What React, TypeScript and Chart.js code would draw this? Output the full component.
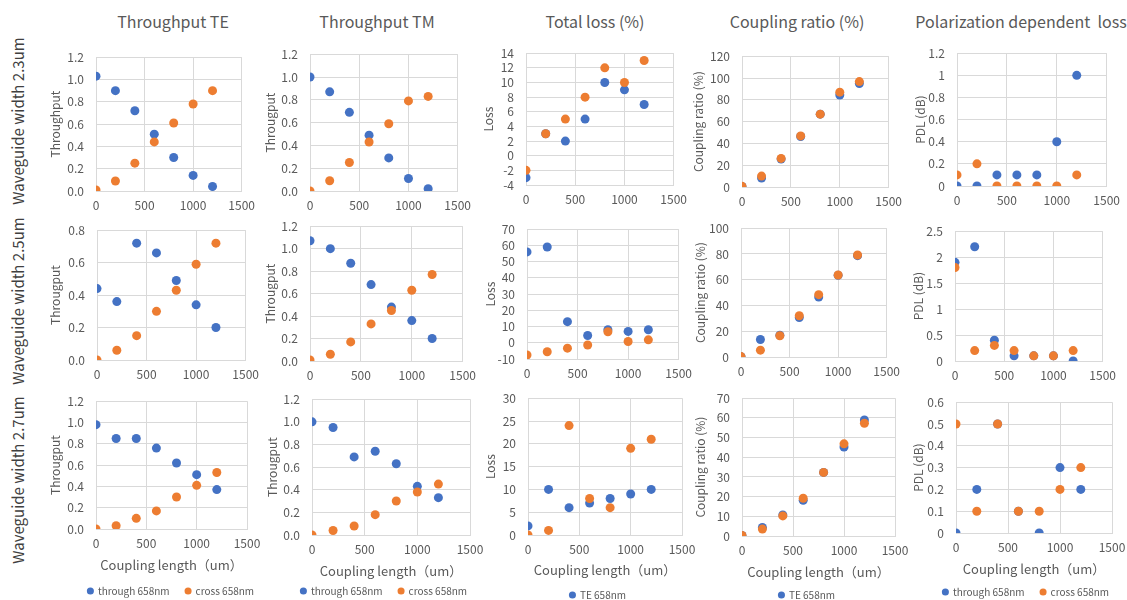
import { useEffect, useRef } from "react";
import { Chart, registerables } from "chart.js";

Chart.register(...registerables);

const FONT = "'Noto Sans CJK JP', 'Noto Sans', sans-serif";
const TEXT = "#595959";
const GRID = "#d9d9d9";
const BLUE = "#4472C4";
const ORANGE = "#ED7D31";

// ---- data ----
const couplingLengths = [0, 200, 400, 600, 800, 1000, 1200];
const xTickStep = 500;
const xMax = 1500;

const columnTitles = ["Throughput TE", "Throughput TM", "Total loss (%)", "Coupling ratio (%)", "Polarization dependent  loss"];
const rowLabels = ["Waveguide width 2.3um", "Waveguide width 2.5um", "Waveguide width 2.7um"];
const xAxisTitle = "Coupling length（um）";

// width 2.3um
const teThrough23 = [1.03, 0.9, 0.72, 0.51, 0.3, 0.14, 0.04];
const teCross23 = [0.01, 0.09, 0.25, 0.44, 0.61, 0.78, 0.9];
const tmThrough23 = [1.0, 0.87, 0.69, 0.49, 0.29, 0.11, 0.02];
const tmCross23 = [0.0, 0.09, 0.25, 0.43, 0.59, 0.79, 0.83];
const lossTE23 = [-3, 3, 2, 5, 10, 9, 7];
const lossTM23 = [-2, 3, 5, 8, 12, 10, 13];
const crTE23 = [0.5, 8.2, 25.6, 46.3, 66.8, 84.4, 95];
const crTM23 = [0.6, 10, 26.2, 46.9, 66.8, 87, 96.7];
const pdlThrough23 = [0, 0, 0.1, 0.1, 0.1, 0.4, 1.0];
const pdlCross23 = [0.1, 0.2, 0, 0, 0, 0, 0.1];

// width 2.5um
const teThrough25 = [0.44, 0.36, 0.72, 0.66, 0.49, 0.34, 0.2];
const teCross25 = [0.0, 0.06, 0.15, 0.3, 0.43, 0.59, 0.72];
const tmThrough25 = [1.07, 1.0, 0.87, 0.68, 0.48, 0.36, 0.2];
const tmCross25 = [0.01, 0.06, 0.17, 0.33, 0.45, 0.63, 0.77];
const lossTE25 = [56, 59, 13, 4.5, 8, 7, 8];
const lossTM25 = [-7.5, -5.5, -3.3, -1.4, 6.8, 0.8, 1.8];
const crTE25 = [0.2, 13.6, 16.9, 30.7, 46.5, 63.4, 78.7];
const crTM25 = [0.3, 5.3, 16.5, 32, 48.4, 63.7, 79.2];
const pdlThrough25 = [1.9, 2.2, 0.4, 0.1, 0.1, 0.1, 0];
const pdlCross25 = [1.8, 0.2, 0.3, 0.2, 0.1, 0.1, 0.2];

// width 2.7um
const teThrough27 = [0.98, 0.85, 0.85, 0.76, 0.62, 0.51, 0.37];
const teCross27 = [0.0, 0.03, 0.1, 0.17, 0.3, 0.41, 0.53];
const tmThrough27 = [1.0, 0.95, 0.69, 0.74, 0.63, 0.43, 0.33];
const tmCross27 = [0.0, 0.04, 0.08, 0.18, 0.3, 0.38, 0.45];
const lossTE27 = [2, 10, 6, 7, 8, 9, 10];
const lossTM27 = [0, 1, 24, 8, 6, 19, 21];
const crTE27 = [0.3, 4.3, 10.7, 18.1, 32.3, 45.2, 58.9];
const crTM27 = [0.3, 3.5, 10.2, 19.2, 32.3, 46.8, 57.3];
const pdlThrough27 = [0, 0.2, 0.5, 0.1, 0, 0.3, 0.2];
const pdlCross27 = [0.5, 0.1, 0.5, 0.1, 0.1, 0.2, 0.3];

const THROUGH = "through 658nm";
const CROSS = "cross 658nm";
const TE = "TE 658nm";
const TM = "TM 658nm";

// ---- layout (positions / styles) ----
type Panel = {
  x0: number; x1: number; y0: number; y1: number; titleX: number;
  yMin: number; yMax: number; yStep: number; dec: number | null; yTitle: string;
  a: number[]; b: number[]; la: string; lb: string;
  legend?: string[]; legendY?: number; legendX?: number; titleY?: number;
};

const panels: Panel[] = [
  // row 1
  { x0: 96, x1: 246, y0: 48, y1: 191, titleX: 55, yMin: 0, yMax: 1.2, yStep: 0.2, dec: 1, yTitle: "Throughput", a: teThrough23, b: teCross23, la: THROUGH, lb: CROSS },
  { x0: 310, x1: 462, y0: 45, y1: 191, titleX: 270, yMin: 0, yMax: 1.2, yStep: 0.2, dec: 1, yTitle: "Througput", a: tmThrough23, b: tmCross23, la: THROUGH, lb: CROSS },
  { x0: 526, x1: 678, y0: 44, y1: 185, titleX: 488, yMin: -4, yMax: 14, yStep: 2, dec: null, yTitle: "Loss", a: lossTE23, b: lossTM23, la: TE, lb: TM },
  { x0: 742, x1: 893, y0: 47, y1: 187, titleX: 698, yMin: 0, yMax: 120, yStep: 20, dec: null, yTitle: "Coupling ratio (%)", a: crTE23, b: crTM23, la: TE, lb: TM },
  { x0: 957, x1: 1111, y0: 44, y1: 186, titleX: 920, yMin: 0, yMax: 1.2, yStep: 0.2, dec: null, yTitle: "PDL (dB)", a: pdlThrough23, b: pdlCross23, la: THROUGH, lb: CROSS },
  // row 2
  { x0: 97, x1: 250, y0: 221, y1: 360, titleX: 55, yMin: 0, yMax: 0.8, yStep: 0.2, dec: 1, yTitle: "Througput", a: teThrough25, b: teCross25, la: THROUGH, lb: CROSS },
  { x0: 310, x1: 467, y0: 217, y1: 361, titleX: 270, yMin: 0, yMax: 1.2, yStep: 0.2, dec: 1, yTitle: "Througput", a: tmThrough25, b: tmCross25, la: THROUGH, lb: CROSS },
  { x0: 527, x1: 683, y0: 220, y1: 359, titleX: 490, yMin: -10, yMax: 70, yStep: 10, dec: null, yTitle: "Loss", a: lossTE25, b: lossTM25, la: TE, lb: TM },
  { x0: 741, x1: 891, y0: 219, y1: 357, titleX: 700, yMin: 0, yMax: 100, yStep: 20, dec: null, yTitle: "Coupling ratio (%)", a: crTE25, b: crTM25, la: TE, lb: TM },
  { x0: 955, x1: 1107, y0: 222, y1: 361, titleX: 918, yMin: 0, yMax: 2.5, yStep: 0.5, dec: null, yTitle: "PDL (dB)", a: pdlThrough25, b: pdlCross25, la: THROUGH, lb: CROSS },
  // row 3
  { x0: 96, x1: 247, y0: 392, y1: 529, titleX: 55, yMin: 0, yMax: 1.2, yStep: 0.2, dec: 1, yTitle: "Througput", a: teThrough27, b: teCross27, la: THROUGH, lb: CROSS, legend: [THROUGH, CROSS], legendY: 591, legendX: 171, titleY: 565 },
  { x0: 312, x1: 470, y0: 390, y1: 535, titleX: 272, yMin: 0, yMax: 1.2, yStep: 0.2, dec: 1, yTitle: "Througput", a: tmThrough27, b: tmCross27, la: THROUGH, lb: CROSS, legend: [THROUGH, CROSS], legendY: 591, legendX: 384, titleY: 571 },
  { x0: 528, x1: 682, y0: 389, y1: 535, titleX: 490, yMin: 0, yMax: 30, yStep: 5, dec: null, yTitle: "Loss", a: lossTE27, b: lossTM27, la: TE, lb: TM, legend: [TE], legendY: 595, legendX: 598, titleY: 570 },
  { x0: 742, x1: 895, y0: 389, y1: 536, titleX: 700, yMin: 0, yMax: 70, yStep: 10, dec: null, yTitle: "Coupling ratio (%)", a: crTE27, b: crTM27, la: TE, lb: TM, legend: [TE], legendY: 595, legendX: 807, titleY: 572 },
  { x0: 956, x1: 1112, y0: 393, y1: 533, titleX: 918, yMin: 0, yMax: 0.6, yStep: 0.1, dec: null, yTitle: "PDL (dB)", a: pdlThrough27, b: pdlCross27, la: THROUGH, lb: CROSS, legend: [THROUGH, CROSS], legendY: 592, legendX: 1026, titleY: 569 },
];

const titleCenters = [173, 377, 595, 797, 1021];
const rowCenters = [121, 301, 480];

const PAD_TOP = 10;
const PAD_RIGHT = 16;
const XH = 26;
const LEG_PAD = 16;
const LEG_FS = 10;
const Y_TITLE_LH = 12 * 1.2;
const X_TITLE_LH = 13 * 1.2;

function geometry(p: Panel) {
  const left = Math.round(p.titleX - Y_TITLE_LH / 2);
  const yw = p.x0 - left;
  const top = p.y0 - PAD_TOP;
  if (p.legendY && p.legendX) {
    const right = 2 * p.legendX - left;
    const width = right - left;
    const rw = right - p.x1;
    const xbottom = p.legendY - LEG_PAD - LEG_FS / 2;
    const xh = xbottom - p.y1;
    const legH = 8 + LEG_PAD + LEG_FS / 2;
    const height = p.legendY + 8 - top;
    const titlePadB = xbottom - X_TITLE_LH / 2 - (p.titleY as number);
    return { left, top, width, height, yw, xh, legH, titlePadB, rw, padRight: 0 };
  }
  const width = yw + (p.x1 - p.x0) + PAD_RIGHT;
  return { left, top, width, height: PAD_TOP + (p.y1 - p.y0) + XH, yw, xh: XH, legH: 0, titlePadB: 0, rw: 0, padRight: PAD_RIGHT };
}

function makePoints(vals: number[]) {
  return couplingLengths.map((x, i) => ({ x, y: vals[i] }));
}

function ChartPanel({ p }: { p: Panel }) {
  const ref = useRef<HTMLCanvasElement | null>(null);
  const g = geometry(p);
  useEffect(() => {
    if (!ref.current) return;
    const shown = p.legend || [];
    const scales: any = {
      x: {
        type: "linear",
        position: "bottom",
        min: 0,
        max: xMax,
        ticks: { stepSize: xTickStep, padding: 7, color: TEXT, font: { family: FONT, size: 12 }, maxRotation: 0, autoSkip: false, callback: (v: any) => String(v) },
        grid: { color: GRID, drawTicks: false, lineWidth: 1 },
        border: { color: GRID },
        title: {
          display: !!p.legendY,
          text: xAxisTitle,
          color: TEXT,
          font: { family: FONT, size: 13 },
          padding: { top: 0, bottom: g.titlePadB },
        },
        afterFit: (s: any) => { s.height = g.xh; },
      },
      y: {
        type: "linear",
        position: "left",
        min: p.yMin,
        max: p.yMax,
        ticks: {
          stepSize: p.yStep,
          padding: 12,
          color: TEXT,
          font: { family: FONT, size: 12 },
          autoSkip: false,
          callback: (v: any) => (p.dec !== null ? Number(v).toFixed(p.dec) : String(Number(Number(v).toFixed(6)))),
        },
        grid: { color: GRID, drawTicks: false, lineWidth: 1 },
        border: { color: GRID },
        title: {
          display: true,
          text: p.yTitle,
          color: TEXT,
          font: { family: FONT, size: 12 },
          padding: { top: 0, bottom: 0 },
        },
        afterFit: (s: any) => { s.width = g.yw; },
      },
    };
    if (g.rw > 0) {
      // empty spacer axis on the right so the legend can be centred on the whole chart object
      scales.ySpacer = {
        type: "linear",
        position: "right",
        display: true,
        grid: { display: false, drawTicks: false },
        ticks: { display: false },
        border: { display: false },
        title: { display: false },
        afterFit: (s: any) => { s.width = g.rw; },
      };
    }
    const chart = new Chart(ref.current, {
      type: "scatter",
      data: {
        datasets: [
          { label: p.la, data: makePoints(p.a), yAxisID: "y", backgroundColor: BLUE, borderColor: BLUE, pointBackgroundColor: BLUE, pointBorderWidth: 0, borderWidth: 0, pointRadius: 4.5, pointHoverRadius: 4.5, order: 1 },
          { label: p.lb, data: makePoints(p.b), yAxisID: "y", backgroundColor: ORANGE, borderColor: ORANGE, pointBackgroundColor: ORANGE, pointBorderWidth: 0, borderWidth: 0, pointRadius: 4.5, pointHoverRadius: 4.5, order: 0 },
        ],
      },
      options: {
        animation: false,
        responsive: false,
        maintainAspectRatio: false,
        events: [],
        layout: { padding: { top: PAD_TOP, right: g.padRight, left: 0, bottom: 0 } },
        plugins: {
          tooltip: { enabled: false },
          title: { display: false },
          legend: {
            display: !!p.legendY,
            position: "bottom",
            fullSize: true,
            align: "center",
            maxHeight: g.legH,
            labels: {
              usePointStyle: true,
              pointStyle: "circle",
              boxWidth: 5,
              boxHeight: 5,
              padding: LEG_PAD,
              color: TEXT,
              font: { family: FONT, size: LEG_FS },
              filter: (item: any) => shown.includes(item.text),
              sort: (a: any, b: any) => a.datasetIndex - b.datasetIndex,
            },
          },
        },
        scales,
      } as any,
    });
    return () => chart.destroy();
  }, []);
  return (
    <canvas
      ref={ref}
      width={g.width}
      height={g.height}
      style={{ position: "absolute", left: g.left, top: g.top, width: g.width, height: g.height }}
    />
  );
}

export default function App() {
  return (
    <div style={{ position: "absolute", left: 0, top: 0, width: 1127, height: 600, overflow: "hidden", background: "#ffffff", fontFamily: FONT }}>
      {columnTitles.map((t, i) => (
        <div
          key={t}
          style={{ position: "absolute", left: titleCenters[i] - 150, top: 10, width: 300, lineHeight: "22px", fontSize: 16, color: TEXT, textAlign: "center", whiteSpace: "pre" }}
        >
          {t}
        </div>
      ))}
      {rowLabels.map((t, i) => (
        <div
          key={t}
          style={{ position: "absolute", left: 18 - 110, top: rowCenters[i] - 10, width: 220, height: 20, lineHeight: "20px", fontSize: 15, color: "#404040", textAlign: "center", transform: "rotate(-90deg)", whiteSpace: "nowrap" }}
        >
          {t}
        </div>
      ))}
      {panels.map((p, i) => (
        <ChartPanel key={i} p={p} />
      ))}
    </div>
  );
}
